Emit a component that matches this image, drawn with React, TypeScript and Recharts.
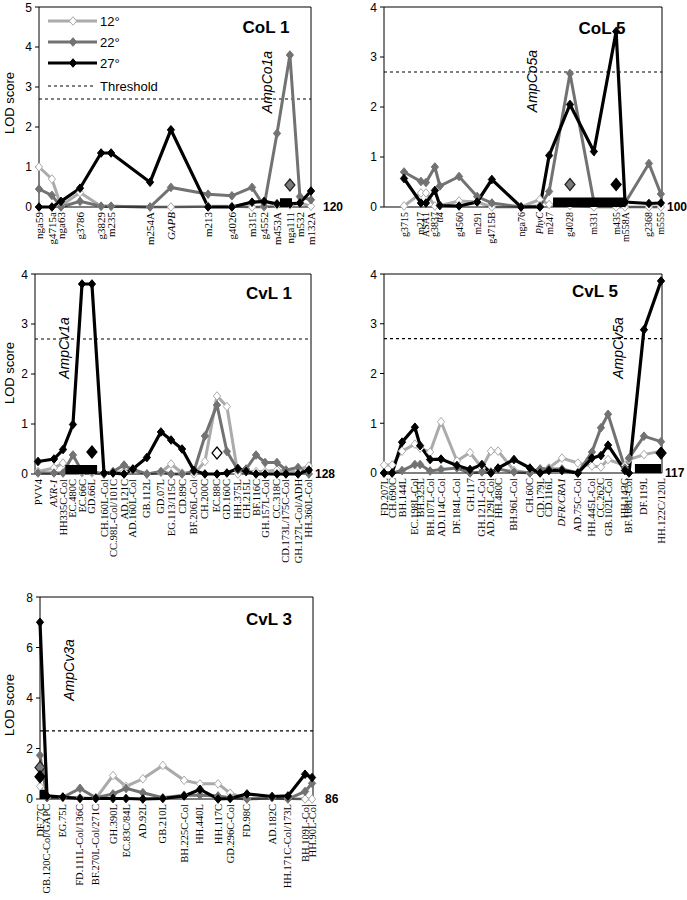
import React from "react";
import {
  ComposedChart,
  Line,
  Scatter,
  XAxis,
  YAxis,
  ReferenceLine,
} from "recharts";

// ---------------- shared ----------------
const THRESHOLD = 2.7;
const SANS = "'Liberation Sans', Arial, Helvetica, sans-serif";
const SERIF = "'Liberation Serif', 'Times New Roman', serif";
const C12 = "#ababab";
const C22 = "#727272";
const C27 = "#000000";

// ---------------- CoL 1 ----------------
const col1Markers = ["nga59", "g4715a", "nga63", "g3786", "g3829", "m235", "m254A", "GAPB", "m213", "g4026", "m315", "g4552", "m453A", "nga111", "m532", "m132A"];
const col1Pos = [0, 5.7, 9.7, 18.1, 27.4, 31.8, 49.0, 58.2, 74.6, 85.1, 94.0, 99.3, 105.0, 110.7, 115.1, 120];
const col1T12 = [1.0, 0.7, 0.03, 0.36, 0.02, 0.02, 0.0, 0.0, 0.02, 0.02, 0.0, 0.0, 0.05, 0.05, 0.1, 0.02];
const col1T22 = [0.45, 0.29, 0.0, 0.14, 0.02, 0.02, 0.0, 0.49, 0.32, 0.28, 0.49, 0.02, 1.84, 3.8, 0.26, 0.18];
const col1T27 = [0, 0, 0.14, 0.47, 1.35, 1.35, 0.62, 1.93, 0, 0, 0.12, 0.14, 0.08, 0.08, 0.1, 0.4];
const col1Italic = ["GAPB"];
const col1Bars = [{ from: 106.3, to: 111.6, h: 0.22 }];
const col1Peaks = [{ pos: 110.7, val: 0.55, temp: "22" }];

// ---------------- CoL 5 ----------------
const col5Markers = ["g3715", "m217", "ASA1", "g3837", "tt4", "g4560", "m291", "g4715B", "nga76", "PhyC", "m247", "g4028", "m331", "m435", "m558A", "g2368", "m555"];
const col5Pos = [7.2, 13.3, 15.1, 18.3, 20.1, 27.0, 33.5, 38.8, 49.3, 56.1, 59.4, 66.9, 75.5, 83.5, 86.7, 95.3, 99.6];
const col5T12 = [0.02, 0.28, 0.28, 0.02, 0.03, 0.12, 0.1, 0.0, 0.0, 0.15, 0.05, 0.03, 0, 0, 0, 0, 0];
const col5T22 = [0.7, 0.51, 0.49, 0.8, 0.42, 0.61, 0.21, 0.08, 0, 0.02, 0.31, 2.67, 0.1, 0.08, 0.08, 0.87, 0.26];
const col5T27 = [0.57, 0.08, 0.08, 0.33, 0.03, 0.02, 0.1, 0.55, 0, 0, 1.03, 2.05, 1.11, 3.51, 0.1, 0.07, 0.08];
const col5Italic = ["tt4", "PhyC"];
const col5Bars = [{ from: 60.8, to: 86.7, h: 0.19 }];
const col5Peaks = [
  { pos: 66.9, val: 0.45, temp: "22" },
  { pos: 83.5, val: 0.45, temp: "27" },
];

// ---------------- CvL 1 ----------------
const cv1Markers = ["PVV4", "AXR-1", "HH335C-Col", "EC.480C", "EC.66C", "GD.66L", "CH.160L-Col", "CC.98L-Col/101C", "AD.121C", "AD.160L-Col", "GB.112L", "GD.07L", "EG.113/115C", "CD.89C", "BF.206L-Col", "CH.200C", "EC.88C", "GD.160C", "HH.375L", "CH.215L", "BF.116C", "GH.157L-Col", "CC.318C", "CD.173L/175C-Col", "GH.127L-Col/ADH", "HH.360L-Col"];
const cv1Pos = [1.4, 8.8, 13.0, 17.6, 21.8, 26.4, 32.0, 36.2, 41.3, 45.4, 51.9, 58.4, 63.1, 68.2, 73.7, 78.8, 84.4, 89.0, 94.1, 97.9, 102.5, 106.7, 112.2, 116.4, 122.0, 127.0];
const cv1T12 = [0.05, 0.12, 0.22, 0.1, 0.02, 0.02, 0.0, 0.02, 0.05, 0.1, 0.0, 0.03, 0.2, 0.02, 0.0, 0.25, 1.56, 1.35, 0.0, 0.05, 0.05, 0.05, 0.08, 0.05, 0.08, 0.16];
const cv1T22 = [0.02, 0.02, 0.02, 0.38, 0.05, 0.05, 0.0, 0.05, 0.18, 0.08, 0.0, 0.05, 0.0, 0.0, 0.05, 0.76, 1.38, 0.45, 0.08, 0.1, 0.38, 0.23, 0.23, 0.08, 0.13, 0.0];
const cv1T27 = [0.25, 0.3, 0.49, 0.99, 3.8, 3.8, 0.02, 0.02, 0.0, 0.1, 0.33, 0.84, 0.68, 0.5, 0.07, 0.0, 0.0, 0.02, 0.11, 0.05, 0.0, 0.0, 0.0, 0.0, 0.0, 0.08];
const cv1Italic = ["AXR-1"];
const cv1Bars = [{ from: 14.1, to: 28.8, h: 0.18 }];
const cv1Peaks = [
  { pos: 26.4, val: 0.44, temp: "27" },
  { pos: 84.4, val: 0.42, temp: "12" },
];

// ---------------- CvL 5 ----------------
const cv5Markers = ["FD.207L", "CH.690C", "BH.144L", "EC.198L-Col", "BH.325L", "BH.107L-Col", "AD.114C-Col", "DF.184L-Col", "GH.117", "GH.121L-Col", "AD.129L-Col", "HH.480C", "BH.96L-Col", "CH.60C", "CD.179L", "CD.116L", "DFR/CRA1", "AD.75C-Col", "HH.445L-Col", "CC.262C", "GB.102L-Col", "HH.143C", "BF.168L-Col", "DF.119L", "HH.122C/120L"];
const cv5Pos = [0, 3.4, 7.6, 13.0, 15.2, 19.4, 24.0, 30.7, 36.2, 41.2, 45.0, 48.0, 54.7, 61.4, 65.7, 69.4, 74.9, 81.6, 87.5, 91.3, 94.3, 101.4, 103.1, 109.4, 116.6];
const cv5T12 = [0.16, 0.16, 0.44, 0.58, 0.5, 0.42, 1.03, 0.24, 0.41, 0.1, 0.44, 0.44, 0.05, 0.0, 0.08, 0.1, 0.3, 0.2, 0.14, 0.12, 0.27, 0.15, 0.27, 0.37, 0.44];
const cv5T22 = [0, 0, 0.05, 0.17, 0.17, 0.04, 0.07, 0.1, 0.0, 0.02, 0.02, 0.08, 0.02, 0.0, 0.08, 0.08, 0.08, 0.0, 0.42, 0.91, 1.18, 0.1, 0.3, 0.74, 0.63];
const cv5T27 = [0, 0, 0.62, 0.92, 0.55, 0.27, 0.28, 0.15, 0.07, 0.17, 0.0, 0.1, 0.27, 0.1, 0.0, 0.05, 0.05, 0.0, 0.3, 0.35, 0.56, 0.05, 0.0, 2.88, 3.86];
const cv5Italic = ["DFR/CRA1"];
const cv5Bars = [{ from: 105.6, to: 116.6, h: 0.18 }];
const cv5Peaks = [{ pos: 116.6, val: 0.4, temp: "27" }];

// ---------------- CvL 3 ----------------
const cv3Markers = ["DF.77C", "GB.120C-Col/GAPC", "EG.75L", "FD.111L-Col/136C", "BF.270L-Col/271C", "GH.390L", "EC.83C/84L", "AD.92L", "GB.210L", "BH.225C-Col", "HH.440L", "HH.117C", "GD.296C-Col", "FD.98C", "AD.182C", "HH.171C-Col/173L", "BH.109L-Col", "HH.90L-Col"];
const cv3Pos = [0, 2.2, 7.2, 12.6, 17.6, 23.0, 27.1, 32.4, 38.7, 45.4, 50.4, 56.1, 59.9, 65.2, 73.1, 78.1, 83.5, 85.7];
const cv3T12 = [0.5, 0.05, 0.05, 0.05, 0.02, 0.93, 0.5, 0.8, 1.33, 0.74, 0.6, 0.6, 0.23, 0.0, 0.05, 0.02, 0.0, 0.0];
const cv3T22 = [1.73, 0.05, 0.07, 0.42, 0.05, 0.2, 0.42, 0.25, 0.05, 0.15, 0.15, 0.12, 0.05, 0.0, 0.05, 0.0, 0.3, 0.62];
const cv3T27 = [7.0, 0.12, 0.08, 0.02, 0.02, 0.02, 0.02, 0.0, 0.02, 0.12, 0.38, 0.0, 0.02, 0.2, 0.1, 0.12, 0.98, 0.85];
const cv3Italic: string[] = [];
const cv3Bars = [{ from: 0, to: 2.2, h: 0.36 }];
const cv3Peaks = [
  { pos: 0, val: 1.25, temp: "22" },
  { pos: 0, val: 0.88, temp: "27" },
];

// ---------------- drawing helpers ----------------
const diamondPath = (cx: number, cy: number, w: number, h: number) =>
  `M${cx},${cy - h}L${cx + w},${cy}L${cx},${cy + h}L${cx - w},${cy}Z`;

const makeDot = (fill: string, stroke: string) => (p: any) => {
  if (p.cx == null || p.cy == null) return <g key={`e${p.index}`} />;
  return (
    <path
      key={`d${p.index}`}
      d={diamondPath(p.cx, p.cy, 3.6, 4.3)}
      fill={fill}
      stroke={stroke}
      strokeWidth={1}
    />
  );
};

const peakStyle: Record<string, { fill: string; stroke: string }> = {
  "12": { fill: "#ffffff", stroke: "#000" },
  "22": { fill: "#7a7a7a", stroke: "#222" },
  "27": { fill: "#000000", stroke: "#000" },
};

const PeakShape = (p: any) => {
  const st = peakStyle[p.payload?.temp] || peakStyle["27"];
  return (
    <path
      d={diamondPath(p.cx, p.cy, 5, 6)}
      fill={st.fill}
      stroke={st.stroke}
      strokeWidth={1.2}
    />
  );
};

const NoShape = () => <g />;

const XTick = (props: any) => {
  const { x, y, payload, labels, positions, italic, fontSize } = props;
  const i = positions.indexOf(payload.value);
  const label = i >= 0 ? labels[i] : "";
  return (
    <text
      x={x}
      y={y}
      transform={`rotate(-90, ${x}, ${y})`}
      textAnchor="end"
      dominantBaseline="central"
      fontFamily={SERIF}
      fontSize={fontSize}
      fontStyle={italic.includes(label) ? "italic" : "normal"}
      fill="#000"
    >
      {label}
    </text>
  );
};

type PanelProps = {
  left: number;
  top: number;
  width: number;
  height: number;
  margin: { top: number; right: number; bottom: number; left: number };
  xAxisHeight: number;
  length: number;
  yMax: number;
  yTicks: number[];
  markers: string[];
  pos: number[];
  t12: number[];
  t22: number[];
  t27: number[];
  italic: string[];
  bars: { from: number; to: number; h: number }[];
  peaks: { pos: number; val: number; temp: string }[];
  labelSize: number;
};

const PLOT_H = 200;

function Panel(props: PanelProps) {
  const { left, top, width, height, margin, xAxisHeight, length, yMax, yTicks, markers, pos, t12, t22, t27, italic, bars, peaks, labelSize } = props;
  const rows = pos.map((p, i) => ({ pos: p, t12: t12[i], t22: t22[i], t27: t27[i] }));
  return (
    <div style={{ position: "absolute", left, top, width, height }}>
      <ComposedChart width={width} height={height} data={rows} margin={margin}>
        <XAxis
          dataKey="pos"
          type="number"
          domain={[0, length]}
          ticks={pos}
          interval={0}
          tickSize={0}
          tickMargin={5}
          tickLine={false}
          height={xAxisHeight}
          axisLine={{ stroke: "#000", strokeWidth: 1 }}
          tick={<XTick labels={markers} positions={pos} italic={italic} fontSize={labelSize} />}
        />
        <YAxis
          type="number"
          domain={[0, yMax]}
          ticks={yTicks}
          width={30}
          tickSize={4}
          tickMargin={3}
          axisLine={{ stroke: "#000", strokeWidth: 1 }}
          tickLine={{ stroke: "#000" }}
          tick={{ fill: "#000", fontSize: 12, fontFamily: SANS }}
        />
        <ReferenceLine y={yMax} stroke="#000" strokeWidth={1} />
        <ReferenceLine x={length} stroke="#000" strokeWidth={1} />
        <ReferenceLine y={THRESHOLD} stroke="#000" strokeWidth={1.2} strokeDasharray="3 3" />
        <Line
          dataKey="t12"
          stroke={C12}
          strokeWidth={3}
          dot={makeDot("#ffffff", C12)}
          isAnimationActive={false}
        />
        <Line
          dataKey="t22"
          stroke={C22}
          strokeWidth={3}
          dot={makeDot(C22, C22)}
          isAnimationActive={false}
        />
        <Line
          dataKey="t27"
          stroke={C27}
          strokeWidth={3.2}
          dot={makeDot(C27, C27)}
          isAnimationActive={false}
        />
        {bars.map((b, i) => (
          <Scatter
            key={`bar${i}`}
            data={[
              { pos: b.from, val: b.h / 2 },
              { pos: b.to, val: b.h / 2 },
            ]}
            dataKey="val"
            line={{ stroke: "#000", strokeWidth: (b.h * PLOT_H) / yMax, strokeLinecap: "butt" }}
            shape={NoShape}
            isAnimationActive={false}
          />
        ))}
        <Scatter data={peaks} dataKey="val" shape={PeakShape} isAnimationActive={false} />
      </ComposedChart>
    </div>
  );
}

const textStyle = { fontFamily: SANS, fill: "#000" } as const;

export default function App() {
  return (
    <div style={{ position: "absolute", left: 0, top: 0, width: 687, height: 900, background: "#fff", overflow: "hidden" }}>
      <Panel
        left={0} top={0} width={345} height={300}
        margin={{ top: 7, right: 34, left: 9, bottom: 8 }} xAxisHeight={85}
        length={120} yMax={5} yTicks={[0, 1, 2, 3, 4, 5]}
        markers={col1Markers} pos={col1Pos} t12={col1T12} t22={col1T22} t27={col1T27}
        italic={col1Italic} bars={col1Bars} peaks={col1Peaks} labelSize={11}
      />
      <Panel
        left={345} top={0} width={342} height={300}
        margin={{ top: 7, right: 25, left: 9, bottom: 8 }} xAxisHeight={85}
        length={100} yMax={4} yTicks={[0, 1, 2, 3, 4]}
        markers={col5Markers} pos={col5Pos} t12={col5T12} t22={col5T22} t27={col5T27}
        italic={col5Italic} bars={col5Bars} peaks={col5Peaks} labelSize={10}
      />
      <Panel
        left={0} top={267} width={345} height={333}
        margin={{ top: 7, right: 34, left: 5, bottom: 6 }} xAxisHeight={120}
        length={128} yMax={4} yTicks={[0, 1, 2, 3, 4]}
        markers={cv1Markers} pos={cv1Pos} t12={cv1T12} t22={cv1T22} t27={cv1T27}
        italic={cv1Italic} bars={cv1Bars} peaks={cv1Peaks} labelSize={10.5}
      />
      <Panel
        left={345} top={267} width={342} height={333}
        margin={{ top: 7, right: 25, left: 9, bottom: 7 }} xAxisHeight={120}
        length={117} yMax={4} yTicks={[0, 1, 2, 3, 4]}
        markers={cv5Markers} pos={cv5Pos} t12={cv5T12} t22={cv5T22} t27={cv5T27}
        italic={cv5Italic} bars={cv5Bars} peaks={cv5Peaks} labelSize={10.5}
      />
      <Panel
        left={0} top={590} width={345} height={310}
        margin={{ top: 7, right: 32, left: 10, bottom: 6 }} xAxisHeight={95}
        length={86} yMax={8} yTicks={[0, 2, 4, 6, 8]}
        markers={cv3Markers} pos={cv3Pos} t12={cv3T12} t22={cv3T22} t27={cv3T27}
        italic={cv3Italic} bars={cv3Bars} peaks={cv3Peaks} labelSize={10.5}
      />

      <svg width={687} height={900} style={{ position: "absolute", left: 0, top: 0, pointerEvents: "none" }}>
        {/* titles */}
        <text x={266} y={33} textAnchor="middle" fontSize={17} fontWeight="bold" {...textStyle}>CoL 1</text>
        <text x={602} y={34} textAnchor="middle" fontSize={17} fontWeight="bold" {...textStyle}>CoL 5</text>
        <text x={269} y={299} textAnchor="middle" fontSize={17} fontWeight="bold" {...textStyle}>CvL 1</text>
        <text x={595} y={297} textAnchor="middle" fontSize={17} fontWeight="bold" {...textStyle}>CvL 5</text>
        <text x={269} y={625} textAnchor="middle" fontSize={17} fontWeight="bold" {...textStyle}>CvL 3</text>

        {/* QTL names */}
        <text x={267} y={82} transform="rotate(-90, 267, 82)" textAnchor="middle" dominantBaseline="central" fontSize={14} fontStyle="italic" {...textStyle}>AmpCo1a</text>
        <text x={532} y={81} transform="rotate(-90, 532, 81)" textAnchor="middle" dominantBaseline="central" fontSize={14} fontStyle="italic" {...textStyle}>AmpCo5a</text>
        <text x={64} y={348} transform="rotate(-90, 64, 348)" textAnchor="middle" dominantBaseline="central" fontSize={14} fontStyle="italic" {...textStyle}>AmpCv1a</text>
        <text x={618} y={348} transform="rotate(-90, 618, 348)" textAnchor="middle" dominantBaseline="central" fontSize={14} fontStyle="italic" {...textStyle}>AmpCv5a</text>
        <text x={69} y={670} transform="rotate(-90, 69, 670)" textAnchor="middle" dominantBaseline="central" fontSize={14} fontStyle="italic" {...textStyle}>AmpCv3a</text>

        {/* chromosome lengths */}
        <text x={323} y={207} dominantBaseline="central" fontSize={12} fontWeight="bold" {...textStyle}>120</text>
        <text x={667} y={207} dominantBaseline="central" fontSize={12} fontWeight="bold" {...textStyle}>100</text>
        <text x={315} y={474} dominantBaseline="central" fontSize={12} fontWeight="bold" {...textStyle}>128</text>
        <text x={665} y={473} dominantBaseline="central" fontSize={12} fontWeight="bold" {...textStyle}>117</text>
        <text x={325} y={799} dominantBaseline="central" fontSize={12} fontWeight="bold" {...textStyle}>86</text>

        {/* y axis titles */}
        <text x={9} y={103} transform="rotate(-90, 9, 103)" textAnchor="middle" dominantBaseline="central" fontSize={13} {...textStyle}>LOD score</text>
        <text x={9} y={373} transform="rotate(-90, 9, 373)" textAnchor="middle" dominantBaseline="central" fontSize={13} {...textStyle}>LOD score</text>
        <text x={9} y={705} transform="rotate(-90, 9, 705)" textAnchor="middle" dominantBaseline="central" fontSize={13} {...textStyle}>LOD score</text>

        {/* legend */}
        <line x1={48} y1={21} x2={97} y2={21} stroke={C12} strokeWidth={3} />
        <path d={diamondPath(73, 21, 3.6, 4.3)} fill="#fff" stroke={C12} />
        <text x={100} y={21} dominantBaseline="central" fontSize={13} {...textStyle}>12°</text>
        <line x1={48} y1={42} x2={97} y2={42} stroke={C22} strokeWidth={3} />
        <path d={diamondPath(73, 42, 3.6, 4.3)} fill={C22} stroke={C22} />
        <text x={100} y={42} dominantBaseline="central" fontSize={13} {...textStyle}>22°</text>
        <line x1={48} y1={63} x2={97} y2={63} stroke={C27} strokeWidth={3} />
        <path d={diamondPath(73, 63, 3.6, 4.3)} fill={C27} stroke={C27} />
        <text x={100} y={63} dominantBaseline="central" fontSize={13} {...textStyle}>27°</text>
        <line x1={48} y1={86} x2={96} y2={86} stroke="#000" strokeWidth={1.2} strokeDasharray="3 3" />
        <text x={100} y={86} dominantBaseline="central" fontSize={13} {...textStyle}>Threshold</text>
      </svg>
    </div>
  );
}
